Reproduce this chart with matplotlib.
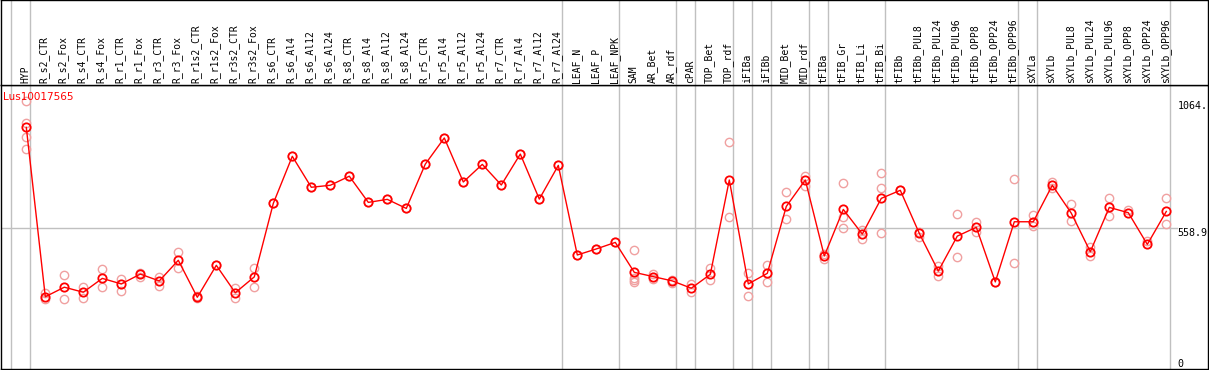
import numpy as np
import matplotlib.pyplot as plt

# sample names, in plot order
samples = ['HYP',
           'R_s2_CTR', 'R_s2_Fox', 'R_s4_CTR', 'R_s4_Fox', 'R_r1_CTR', 'R_r1_Fox',
           'R_r3_CTR', 'R_r3_Fox', 'R_r1s2_CTR', 'R_r1s2_Fox', 'R_r3s2_CTR', 'R_r3s2_Fox',
           'R_s6_CTR', 'R_s6_Al4', 'R_s6_Al12', 'R_s6_Al24', 'R_s8_CTR', 'R_s8_Al4',
           'R_s8_Al12', 'R_s8_Al24', 'R_r5_CTR', 'R_r5_Al4', 'R_r5_Al12', 'R_r5_Al24',
           'R_r7_CTR', 'R_r7_Al4', 'R_r7_Al12', 'R_r7_Al24',
           'LEAF_N', 'LEAF_P', 'LEAF_NPK',
           'SAM', 'AR_Bet', 'AR_rdf',
           'cPAR',
           'TOP_Bet', 'TOP_rdf',
           'iFIBa', 'iFIBb',
           'MID_Bet', 'MID_rdf',
           'tFIBa',
           'tFIB_Gr', 'tFIB_Li', 'tFIB_Bi',
           'tFIBb', 'tFIBb_PUL8', 'tFIBb_PUL24', 'tFIBb_PUL96', 'tFIBb_OPP8', 'tFIBb_OPP24', 'tFIBb_OPP96',
           'sXYLa',
           'sXYLb', 'sXYLb_PUL8', 'sXYLb_PUL24', 'sXYLb_PUL96', 'sXYLb_OPP8', 'sXYLb_OPP24', 'sXYLb_OPP96']

# number of samples in each group (gray separators between them)
group_sizes = [1, 28, 3, 3, 1, 2, 1, 1, 2, 1, 3, 7, 1, 7]

# mean expression
means = [960,
         287, 325, 305, 360, 338, 377, 350, 432, 285, 412, 303, 366,
         658, 845, 722, 730, 766, 662, 674, 638,
         814, 918, 743, 813, 731, 854, 675, 809,
         453, 477, 503,
         384, 367, 350,
         321,
         376, 751,
         338, 380,
         646, 751,
         449,
         634, 536, 678,
         710, 539, 389, 528, 563, 346, 585,
         585,
         730, 619, 466, 642, 621, 495, 626]

# replicate values
replicates = [[1064, 976, 920, 873],
              [302, 277], [372, 279], [326, 283], [396, 325], [356, 310], [383, 367],
              [366, 331], [464, 400], [290, 282], [412], [323, 283], [400, 325],
              [658], [845], [722], [730], [766], [662], [674], [638],
              [814], [918], [743], [813], [731], [854], [675], [809],
              [453], [477], [503],
              [472, 360, 352, 346], [377, 356], [354, 343],
              [336, 305],
              [402, 354], [902, 603],
              [381, 289], [413, 344],
              [703, 595], [767, 728],
              [457, 436],
              [738, 603, 559], [552, 515], [777, 718, 539],
              [710], [545, 526], [410, 370], [615, 444], [584, 544], [346], [755, 420],
              [612, 569],
              [744, 718], [654, 588], [486, 449], [678, 609], [632], [508], [678, 575]]

gene = 'Lus10017565'
y_max = 1064
y_mid = 558.9

gray = '#c0c0c0'
rep_color = '#f0a0a0'

fig = plt.figure(figsize=(12.09, 3.70), dpi=100)
W, H = 1209.0, 370.0
px0 = 26.3  # pixel x of first sample
step = 19.0
x_left = (1 - px0) / step
x_right = (1208 - px0) / step

ax = fig.add_axes([1 / W, 1 / H, 1207 / W, 284 / H])
hd = fig.add_axes([1 / W, 285 / H, 1207 / W, 85 / H])

y_top = 284 * (y_max / (369 - 101.2))
x = np.arange(len(samples))

# group separators
seps = [-1 + 0.21]
pos = -1
for g in group_sizes:
    pos += g
    seps.append(pos + 0.21)
for s in seps:
    ax.axvline(s, color=gray, lw=1, zorder=0)
    hd.axvline(s, color=gray, lw=1, zorder=0)

ax.plot([x_left, 60.55], [y_mid, y_mid], color=gray, lw=1, zorder=0)

for i, reps in enumerate(replicates):
    ax.plot([i] * len(reps), reps, 'o', ms=6, mfc='none', mec=rep_color, mew=1.0, zorder=2)

ax.plot(x, means, '-', color='red', lw=1, zorder=3)
ax.plot(x, means, 'o', ms=6, mfc='none', mec='red', mew=1.3, zorder=4)

ax.set_xlim(x_left, x_right)
ax.set_ylim(0, y_top)
ax.set_xticks([])
ax.set_yticks([])

ax.text(60.6, y_max, '1064.', family='DejaVu Sans Mono', fontsize=7.2,
        va='top', ha='left')
ax.text(60.6, y_mid, '558.9', family='DejaVu Sans Mono', fontsize=7.2,
        va='top', ha='left')
ax.text(60.6, 0, '0', family='DejaVu Sans Mono', fontsize=7.2,
        va='bottom', ha='left')
ax.text(-1.22, y_top - 12 * y_top / 284, gene, color='red', fontsize=7.5,
        va='center', ha='left')

hd.set_xlim(x_left, x_right)
hd.set_ylim(0, 1)
hd.set_xticks([])
hd.set_yticks([])
for i, name in enumerate(samples):
    hd.text(i - 0.05, 0.025, name, rotation=90, family='DejaVu Sans Mono',
            fontsize=7, va='bottom', ha='center')

for a in (ax, hd):
    for sp in a.spines.values():
        sp.set_color('black')
        sp.set_linewidth(1)

fig.savefig('out.png', dpi=100)
